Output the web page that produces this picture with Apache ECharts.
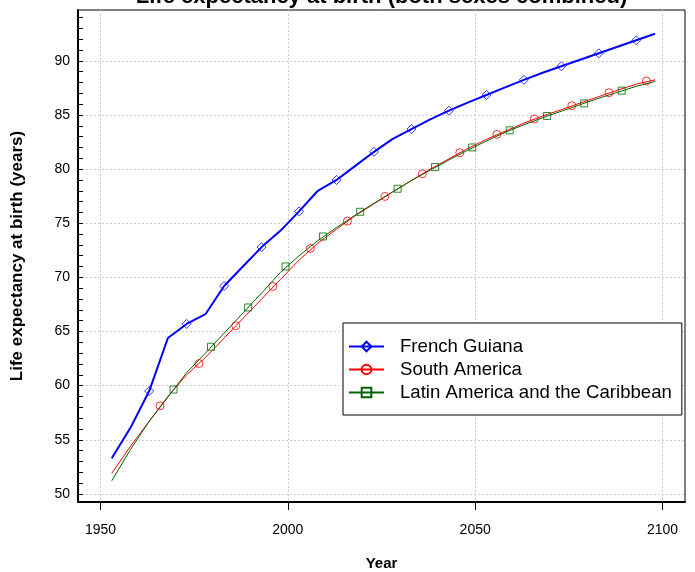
<!DOCTYPE html>
<html>
<head>
<meta charset="utf-8">
<script src="https://cdn.jsdelivr.net/npm/echarts@6/dist/echarts.min.js"></script>
<style>
html,body{margin:0;padding:0;background:#fff;}
#chart{width:695px;height:572px;}
</style>
</head>
<body>
<div id="chart"></div>
<script>
// ---- data ----
const years = [1953,1958,1963,1968,1973,1978,1983,1988,1993,1998,2003,2008,2013,2018,2023,2028,2033,2038,2043,2048,2053,2058,2063,2068,2073,2078,2083,2088,2093,2098];
const frenchGuiana = [53.3,56.1,59.5,64.4,65.7,66.6,69.2,71.0,72.8,74.3,76.1,78.0,79.0,80.3,81.6,82.8,83.7,84.6,85.4,86.15,86.85,87.55,88.25,88.9,89.5,90.1,90.7,91.3,91.9,92.5];
const southAmerica = [51.9,54.4,56.7,59.0,61.0,62.6,64.4,66.2,68.0,69.8,71.6,73.15,74.45,75.7,76.8,77.9,78.95,80.0,80.95,81.9,82.75,83.5,84.25,84.9,85.5,86.1,86.7,87.3,87.85,88.25];
const latinAmerica = [51.2,54.1,56.7,58.95,61.2,63.0,64.85,66.7,68.55,70.45,72.0,73.4,74.6,75.75,76.85,77.9,78.95,79.9,80.85,81.75,82.6,83.4,84.1,84.75,85.35,85.95,86.55,87.1,87.65,88.1];

// marker positions as drawn in the reference
const fgMarkerYears = [1963,1973,1983,1993,2003,2013,2023,2033,2043,2053,2063,2073,2083,2093];
const saMarkerYears = [1965.9,1976.3,1986.1,1996.0,2006.0,2015.9,2025.9,2035.9,2045.9,2055.8,2065.8,2075.8,2085.7,2095.7];
const saMarkerValues = [58.13,62.04,65.53,69.16,72.67,75.20,77.48,79.57,81.52,83.21,84.63,85.86,87.06,88.14];
const lacMarkerYears = [1969.5,1979.5,1989.4,1999.4,2009.4,2019.3,2029.3,2039.3,2049.2,2059.2,2069.2,2079.1,2089.1];
const lacMarkerValues = [59.64,63.59,67.22,71.01,73.78,76.06,78.19,80.19,82.0,83.58,84.91,86.07,87.25];

const seriesNames = ['French Guiana','South America','Latin America and the Caribbean'];
const xTicks = [1950,2000,2050,2100];
const yLabels = [50,55,60,65,70,75,80,85,90];
const yMinorTicks = [50,51,52,53,54,55,56,57,58,59,60,61,62,63,64,65,66,67,68,69,70,71,72,73,74,75,76,77,78,79,80,81,82,83,84,85,86,87,88,89,90,91,92,93,94];
const titleText = 'Life expectancy at birth (both sexes combined)';
const xName = 'Year';
const yName = 'Life expectancy at birth (years)';

// ---- build ----
const FONT = '"Liberation Sans", Arial, Helvetica, sans-serif';
const colors = ['#0000ff','#ff0000','#006400'];
const symbols = ['diamond','circle','rect'];
const symSizes = [9,8,7];
const lineWidths = [2,1,1];
const lineData = [frenchGuiana, southAmerica, latinAmerica];
const fgMarkerValues = fgMarkerYears.map(y => frenchGuiana[years.indexOf(y)]);
const markerYears = [fgMarkerYears, saMarkerYears, lacMarkerYears];
const markerValues = [fgMarkerValues, saMarkerValues, lacMarkerValues];

const series = [];
seriesNames.forEach((name, i) => {
  series.push({
    name: name, type: 'line',
    data: years.map((y, k) => [y, lineData[i][k]]),
    showSymbol: false, symbol: symbols[i], symbolSize: symSizes[i],
    lineStyle: {color: colors[i], width: lineWidths[i]},
    itemStyle: {color: 'rgba(0,0,0,0)', borderColor: colors[i], borderWidth: 1},
    z: 2 + i, silent: true
  });
});
seriesNames.forEach((name, i) => {
  series.push({
    name: name, type: 'scatter',
    data: markerYears[i].map((y, k) => [y, markerValues[i][k]]),
    symbol: symbols[i], symbolSize: symSizes[i],
    itemStyle: {color: 'rgba(0,0,0,0)', borderColor: colors[i], borderWidth: 1},
    z: 5 + i, silent: true
  });
});

const chart = echarts.init(document.getElementById('chart'), null, {renderer: 'canvas'});
chart.setOption({
  animation: false,
  backgroundColor: '#fff',
  textStyle: {fontFamily: FONT},
  grid: {left: 78, right: 10, top: 10, bottom: 70, show: true, borderColor: '#000', borderWidth: 1,
    backgroundColor: 'transparent', containLabel: false, outerBoundsMode: 'none'},
  graphic: [{
    type: 'text', x: 381.5, y: -3, z: 100,
    style: {text: titleText, font: 'bold 22px ' + FONT, fill: '#000', align: 'center', verticalAlign: 'middle'}
  }],
  legend: {
    data: seriesNames, orient: 'vertical', left: 343, top: 323,
    padding: [14, 10, 13, 5], itemWidth: 35, itemHeight: 12, itemGap: 4,
    backgroundColor: '#fff', borderColor: '#000', borderWidth: 1, borderRadius: 0,
    textStyle: {fontSize: 18.6, color: '#000', fontFamily: FONT, padding: [0, 0, 0, 11]},
    selectedMode: false
  },
  xAxis: {
    type: 'value', min: 1944, max: 2106,
    axisLine: {show: true, onZero: false, lineStyle: {color: '#000', width: 2}},
    axisTick: {show: true, customValues: xTicks, length: 8, lineStyle: {color: '#000', width: 1}},
    axisLabel: {customValues: xTicks, fontSize: 14, color: '#000', margin: 21, fontFamily: FONT,
      formatter: v => String(v)},
    splitLine: {show: true, lineStyle: {color: '#cccccc', width: 1, type: [2, 2]}},
    name: xName, nameLocation: 'middle', nameGap: 54,
    nameTextStyle: {fontSize: 15, fontWeight: 'bold', color: '#000', fontFamily: FONT}
  },
  yAxis: [{
    type: 'value', min: 49.25, max: 94.7, position: 'left',
    axisLine: {show: true, onZero: false, lineStyle: {color: '#000', width: 2}},
    axisTick: {show: true, inside: true, customValues: yMinorTicks, length: 5, lineStyle: {color: '#000', width: 1}},
    axisLabel: {customValues: yLabels, fontSize: 14, color: '#000', margin: 8, fontFamily: FONT,
      formatter: v => String(v)},
    splitLine: {show: false},
    name: yName, nameLocation: 'middle', nameGap: 52,
    nameTextStyle: {fontSize: 17, fontWeight: 'bold', color: '#000', fontFamily: FONT}
  }, {
    type: 'value', min: 49.25, max: 94.7, position: 'left',
    axisLine: {show: false}, axisTick: {show: false, customValues: yLabels},
    axisLabel: {show: false},
    splitLine: {show: true, lineStyle: {color: '#cccccc', width: 1, type: [2, 2]}}
  }],
  series: series
});
</script>
</body>
</html>
